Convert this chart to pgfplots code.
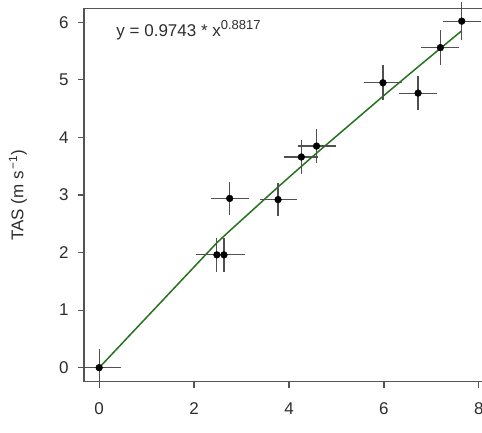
\documentclass[border=0pt]{standalone}
\usepackage{fontspec}
\setmainfont{Liberation Sans}
\usepackage{pgfplots}
\pgfplotsset{compat=1.18}
\usepackage{pgfplotstable}
\definecolor{axcol}{RGB}{85,85,85}
\definecolor{txtcol}{RGB}{45,45,45}
\definecolor{barcol}{RGB}{80,80,80}
\definecolor{fitcol}{RGB}{38,115,30}
\pgfplotstableread{
x y ex ey
0 0 0.45 0.33
2.48 1.96 0.45 0.29
2.63 1.96 0.45 0.29
2.75 2.94 0.40 0.29
3.77 2.92 0.39 0.29
4.26 3.66 0.36 0.29
4.58 3.85 0.40 0.29
5.98 4.95 0.40 0.30
6.72 4.77 0.40 0.30
7.19 5.56 0.40 0.30
7.64 6.02 0.40 0.33
}\tasdata
\pgfplotstableread{
x y
0 0
2.48 2.170
2.63 2.285
2.75 2.377
3.77 3.140
4.26 3.497
4.58 3.727
5.98 4.715
6.72 5.226
7.19 5.547
7.64 5.853
}\fitdata
\begin{document}
\begin{tikzpicture}
\path[use as bounding box, clip] (-84pt,-50.5pt) rectangle (398pt,381.5pt);
\begin{axis}[
  at={(0,0)}, anchor=south west,
  scale only axis, width=410pt, height=373pt,
  xmin=-0.32, xmax=8.32, ymin=-0.24, ymax=6.24,
  xtick={0,2,4,6,8}, ytick={0,1,2,3,4,5,6},
  axis line style={draw=axcol, line width=1.2pt},
  tick style={draw=axcol, line width=1.2pt},
  tick align=outside, major tick length=6pt,
  xtick pos=left, ytick pos=left,
  /pgf/number format/assume math mode=true,
  tick label style={font=\fontsize{17}{20}\selectfont, text=txtcol},
  xticklabel style={yshift=-12pt},
  yticklabel style={xshift=-6pt},
  every axis y label/.style={at={(axis description cs:-0.161,0.5)}, rotate=90, anchor=center},
  ylabel={\fontsize{17}{20}\selectfont TAS (m s\textsuperscript{\,−1})},
  ylabel style={text=txtcol},
  clip=false,
]
\draw[axcol, line width=1.2pt] (rel axis cs:0,0) rectangle (rel axis cs:1,1);
\addplot[fitcol, line width=1.5pt] table[x=x,y=y] {\fitdata};
\addplot[only marks, mark=none, draw=barcol,
  error bars/.cd, x dir=both, x explicit, y dir=both, y explicit,
  error mark=none, error bar style={draw=barcol, line width=1.2pt}]
  table[x=x, y=y, x error=ex, y error=ey] {\tasdata};
\addplot[only marks, mark=*, mark size=3.4pt, mark options={fill=black, draw=black}]
  table[x=x, y=y] {\tasdata};
\node[anchor=base west, text=txtcol, font=\fontsize{17}{20}\selectfont, inner sep=0pt]
  at (axis cs:0.36,5.75) {y = 0.9743 * x\raisebox{7.5pt}{\fontsize{13}{15}\selectfont 0.8817}};
\end{axis}
\end{tikzpicture}
\end{document}
